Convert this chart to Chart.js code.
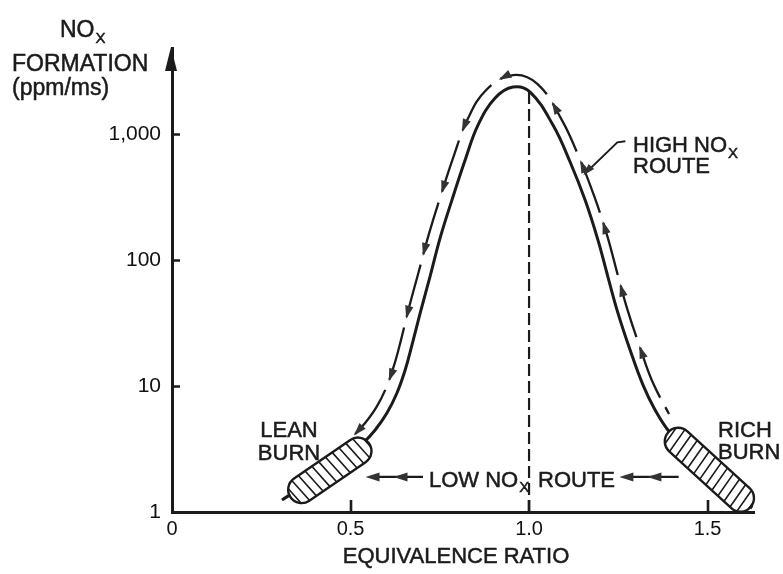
<!DOCTYPE html>
<html>
<head>
<meta charset="utf-8">
<script src="https://cdn.jsdelivr.net/npm/chart.js@4.4.0/dist/chart.umd.min.js"></script>
<style>
  html, body { margin: 0; padding: 0; background: #ffffff; }
  canvas { display: block; }
</style>
</head>
<body>
<canvas id="c" width="783" height="574"></canvas>
<script>
// ---------------- data ----------------
const xTicks = [0, 0.5, 1.0, 1.5];
const xTickLabels = ['0', '0.5', '1.0', '1.5'];
const yTicks = [1, 10, 100, 1000];
const yTickLabels = ['1', '10', '100', '1,000'];

// NOx formation curve (equivalence ratio vs ppm/ms)
const curveX = [0.308, 0.359, 0.429, 0.485, 0.535, 0.569, 0.602, 0.630, 0.653, 0.672, 0.695, 0.723, 0.751, 0.784,
                0.821, 0.857, 0.905, 0.955,
                1.003, 1.067, 1.115, 1.157, 1.193, 1.221, 1.249, 1.283, 1.319, 1.353, 1.395, 1.451, 1.507, 1.563, 1.625];
const curveY = [1.245, 1.55, 2.12, 2.73, 3.53, 4.48, 6.1, 8.8, 13.4, 21.1, 37.9, 74.6, 150, 299,
                622, 1178, 1931, 2360,
                2154, 1178, 600, 299, 144, 73.3, 37.9, 19.3, 10.2, 6.45, 4.24, 2.89, 2.04, 1.495, 1.076];

// High NOx route (travelled from the rich side over the peak to the lean side)
const routeX = [1.392, 1.345, 1.310, 1.276, 1.248, 1.220, 1.183, 1.141, 1.092, 1.024, 0.955,
                0.880, 0.827, 0.789, 0.752, 0.719, 0.690, 0.662, 0.640, 0.621, 0.599, 0.573, 0.542, 0.513];
const routeY = [5.99, 10.9, 20.5, 40.0, 76.9, 152, 319, 644, 1291, 2494, 2940,
                2239, 1296, 668, 320, 159, 79, 40.1, 22.4, 14.3, 9.57, 6.83, 5.13, 4.16];

// stoichiometric marker line
const stoichX = [1.0, 1.0];
const stoichY = [1, 2150];

// burn zones (end points along the curve)
const leanZoneX = [0.332, 0.552];
const leanZoneY = [1.31, 3.5];
const richZoneX = [1.39, 1.62];
const richZoneY = [4.3, 1.09];

// low NOx route arrows
const lowRouteY = 1.9;
const lowArrowFromX = [1.419, 0.703];
const lowArrowToX = [1.253, 0.542];

// leader for "HIGH NOx ROUTE" label
const leaderTipX = [1.152];
const leaderTipY = [470];

// ---------------- style ----------------
const FONT = '"Liberation Sans", Arial, Helvetica, sans-serif';
const INK = '#1b1b1b';
const HEAD = '#333333';
const DASH = 54, GAP = 11, PERIOD = DASH + GAP;

function sampleLine(pts) {
  const out = [{ x: pts[0].x, y: pts[0].y, s: 0 }];
  let s = 0;
  for (let i = 1; i < pts.length; i++) {
    const p0 = pts[i - 1], p3 = pts[i];
    const c1x = p0.cp2x ?? p0.x, c1y = p0.cp2y ?? p0.y;
    const c2x = p3.cp1x ?? p3.x, c2y = p3.cp1y ?? p3.y;
    let px = p0.x, py = p0.y;
    for (let k = 1; k <= 40; k++) {
      const t = k / 40, u = 1 - t;
      const x = u*u*u*p0.x + 3*u*u*t*c1x + 3*u*t*t*c2x + t*t*t*p3.x;
      const y = u*u*u*p0.y + 3*u*u*t*c1y + 3*u*t*t*c2y + t*t*t*p3.y;
      s += Math.hypot(x - px, y - py);
      out.push({ x, y, s });
      px = x; py = y;
    }
  }
  out.total = s;
  return out;
}

function pointAt(samp, s) {
  let i = 1;
  while (i < samp.length - 1 && samp[i].s < s) i++;
  const a = samp[i - 1], b = samp[i];
  const f = b.s > a.s ? Math.min(1, Math.max(0, (s - a.s) / (b.s - a.s))) : 0;
  const lo = samp[Math.max(0, i - 4)], hi = samp[Math.min(samp.length - 1, i + 3)];
  const ang = Math.atan2(hi.y - lo.y, hi.x - lo.x);
  return { x: a.x + (b.x - a.x) * f, y: a.y + (b.y - a.y) * f, ang };
}

function arrowHead(ctx, tx, ty, ang, len, hw, color) {
  const dx = Math.cos(ang), dy = Math.sin(ang);
  const bx = tx - dx * len, by = ty - dy * len;
  ctx.beginPath();
  ctx.moveTo(tx, ty);
  ctx.lineTo(bx - dy * hw, by + dx * hw);
  ctx.lineTo(bx + dy * hw, by - dx * hw);
  ctx.closePath();
  ctx.fillStyle = color;
  ctx.fill();
}

function pillPath(ctx, a, hw) {
  ctx.beginPath();
  ctx.moveTo(-a, -hw);
  ctx.lineTo(a, -hw);
  ctx.arc(a, 0, hw, -Math.PI / 2, Math.PI / 2);
  ctx.lineTo(-a, hw);
  ctx.arc(-a, 0, hw, Math.PI / 2, Math.PI * 1.5);
  ctx.closePath();
}

function drawPill(ctx, x1, y1, x2, y2, hw, skew) {
  const cx = (x1 + x2) / 2, cy = (y1 + y2) / 2;
  const ang = Math.atan2(y2 - y1, x2 - x1);
  const L = Math.hypot(x2 - x1, y2 - y1);
  const a = L / 2 - hw;
  ctx.save();
  ctx.translate(cx, cy);
  ctx.rotate(ang);
  pillPath(ctx, a, hw);
  ctx.fillStyle = '#ffffff';
  ctx.fill();
  ctx.save();
  ctx.clip();
  ctx.beginPath();
  const sp = 8.2;
  for (let t = -L / 2 + 4; t < L / 2 + 4; t += sp) {
    ctx.moveTo(t - skew, -hw - 2);
    ctx.lineTo(t + skew, hw + 2);
  }
  ctx.strokeStyle = INK;
  ctx.lineWidth = 1.6;
  ctx.stroke();
  ctx.restore();
  pillPath(ctx, a, hw);
  ctx.strokeStyle = INK;
  ctx.lineWidth = 2.4;
  ctx.stroke();
  ctx.restore();
}

function txt(ctx, s, x, y, size, align) {
  ctx.font = size + 'px ' + FONT;
  ctx.textAlign = align || 'left';
  ctx.textBaseline = 'alphabetic';
  ctx.fillStyle = INK;
  ctx.fillText(s, x, y);
  ctx.strokeStyle = INK;
  ctx.lineWidth = 0.5;
  ctx.strokeText(s, x, y);
  return ctx.measureText(s).width;
}

const decor = {
  id: 'decor',
  beforeDatasetsDraw(chart) {
    const meta = chart.getDatasetMeta(1);
    meta.dataset.updateControlPoints(chart.chartArea, meta.iScale.axis);
    const samp = sampleLine(meta.data);
    chart.$route = samp;
    const L = samp.total;
    meta.dataset.options.borderDashOffset = (((DASH - L) % PERIOD) + PERIOD) % PERIOD;
  },
  afterDatasetsDraw(chart) {
    const ctx = chart.ctx;
    const xs = chart.scales.x, ys = chart.scales.y;
    const area = chart.chartArea;
    ctx.save();

    // arrowheads along the high NOx route, at the end of each dash
    const samp = chart.$route;
    if (samp) {
      const L = samp.total;
      for (let s = L; s > 20; s -= PERIOD) {
        const p = pointAt(samp, s);
        const tx = p.x + Math.cos(p.ang) * 2, ty = p.y + Math.sin(p.ang) * 2;
        arrowHead(ctx, tx, ty, p.ang, 13, 4.2, HEAD);
      }
    }

    // burn zones
    drawPill(ctx, xs.getPixelForValue(leanZoneX[0]), ys.getPixelForValue(leanZoneY[0]),
                  xs.getPixelForValue(leanZoneX[1]), ys.getPixelForValue(leanZoneY[1]), 13.5, 2);
    drawPill(ctx, xs.getPixelForValue(richZoneX[0]), ys.getPixelForValue(richZoneY[0]),
                  xs.getPixelForValue(richZoneX[1]), ys.getPixelForValue(richZoneY[1]), 13.5, 2);

    // inward tick marks
    ctx.strokeStyle = INK;
    ctx.lineWidth = 2.6;
    ctx.beginPath();
    yTicks.forEach(v => {
      if (v === yTicks[0]) return;
      const y = Math.round(ys.getPixelForValue(v)) + 0.5;
      ctx.moveTo(area.left, y);
      ctx.lineTo(area.left + 8, y);
    });
    xTicks.forEach(v => {
      if (v === xTicks[0]) return;
      const x = Math.round(xs.getPixelForValue(v));
      ctx.moveTo(x, area.bottom);
      ctx.lineTo(x, area.bottom - 12);
    });
    ctx.stroke();

    // y axis arrowhead
    ctx.beginPath();
    ctx.moveTo(area.left - 1, area.top - 1);
    ctx.lineTo(area.left - 7, area.top + 23);
    ctx.lineTo(area.left + 5, area.top + 23);
    ctx.closePath();
    ctx.fillStyle = INK;
    ctx.fill();

    // low NOx route arrows
    const ly = ys.getPixelForValue(lowRouteY);
    lowArrowFromX.forEach((fx, i) => {
      const x0 = xs.getPixelForValue(fx), x1 = xs.getPixelForValue(lowArrowToX[i]);
      ctx.beginPath();
      ctx.moveTo(x0, ly);
      ctx.lineTo(x1 + 6, ly);
      ctx.strokeStyle = INK;
      ctx.lineWidth = 2.2;
      ctx.stroke();
      arrowHead(ctx, x1, ly, Math.PI, 14, 4.5, HEAD);
      arrowHead(ctx, x1 + 28, ly, Math.PI, 14, 4.5, HEAD);
    });

    // leader for HIGH NOx ROUTE
    const tx = xs.getPixelForValue(leaderTipX[0]), ty = ys.getPixelForValue(leaderTipY[0]);
    ctx.beginPath();
    ctx.moveTo(tx + 4, ty - 4);
    ctx.lineTo(tx + 34, ty - 33);
    ctx.lineTo(tx + 42, ty - 34);
    ctx.strokeStyle = INK;
    ctx.lineWidth = 2;
    ctx.stroke();
    arrowHead(ctx, tx, ty, Math.atan2(33, -30), 12, 3.8, HEAD);

    // texts
    let w = txt(ctx, 'NO', 60, 37, 23);
    txt(ctx, 'X', 60 + w + 1, 43, 15);
    txt(ctx, 'FORMATION', 12, 71, 23);
    txt(ctx, '(ppm/ms)', 12, 95, 23);

    w = txt(ctx, 'HIGH NO', 633, 152, 22);
    txt(ctx, 'X', 633 + w + 1, 158, 15);
    txt(ctx, 'ROUTE', 633, 173, 22);

    txt(ctx, 'LEAN', 289, 437, 22, 'center');
    txt(ctx, 'BURN', 289, 460, 22, 'center');
    txt(ctx, 'RICH', 718, 437, 22);
    txt(ctx, 'BURN', 718, 459, 22);

    w = txt(ctx, 'LOW NO', 429, 487, 22);
    txt(ctx, 'X', 429 + w + 1, 492, 15);
    txt(ctx, 'ROUTE', 538, 487, 22);

    txt(ctx, 'EQUIVALENCE RATIO', 456, 563, 22, 'center');

    ctx.restore();
  }
};

new Chart(document.getElementById('c'), {
  type: 'line',
  data: {
    datasets: [
      {
        label: 'NOx formation',
        data: curveX.map((x, i) => ({ x, y: curveY[i] })),
        borderColor: INK, borderWidth: 3, tension: 0.4,
        pointRadius: 0, fill: false
      },
      {
        label: 'High NOx route',
        data: routeX.map((x, i) => ({ x, y: routeY[i] })),
        borderColor: INK, borderWidth: 2.3, tension: 0.4,
        borderDash: [DASH, GAP], pointRadius: 0, fill: false
      },
      {
        label: 'Stoichiometric',
        data: stoichX.map((x, i) => ({ x, y: stoichY[i] })),
        borderColor: INK, borderWidth: 2.2, borderDash: [12, 5],
        pointRadius: 0, fill: false
      }
    ]
  },
  options: {
    responsive: false,
    animation: false,
    devicePixelRatio: 1,
    events: [],
    layout: { padding: { left: 0, right: 29, top: 48, bottom: 0 } },
    plugins: { legend: { display: false }, tooltip: { enabled: false } },
    scales: {
      x: {
        type: 'linear', min: 0, max: 1.63,
        afterBuildTicks: s => { s.ticks = xTicks.map(v => ({ value: v })); },
        afterFit: s => { s.height = 62; },
        ticks: {
          callback: v => xTickLabels[xTicks.indexOf(v)],
          font: { family: FONT, size: 20 }, color: '#111111', padding: 5,
          maxRotation: 0, autoSkip: false
        },
        grid: { display: false, drawTicks: false },
        border: { display: true, color: INK, width: 3 }
      },
      y: {
        type: 'logarithmic', min: 1, max: 4820,
        afterBuildTicks: s => { s.ticks = yTicks.map(v => ({ value: v })); },
        afterFit: s => { s.width = 172; },
        ticks: {
          callback: v => yTickLabels[yTicks.indexOf(v)],
          font: { family: FONT, size: 21 }, color: '#111111', padding: 11,
          autoSkip: false
        },
        grid: { display: false, drawTicks: false },
        border: { display: true, color: INK, width: 3 }
      }
    }
  },
  plugins: [decor]
});
</script>
</body>
</html>
